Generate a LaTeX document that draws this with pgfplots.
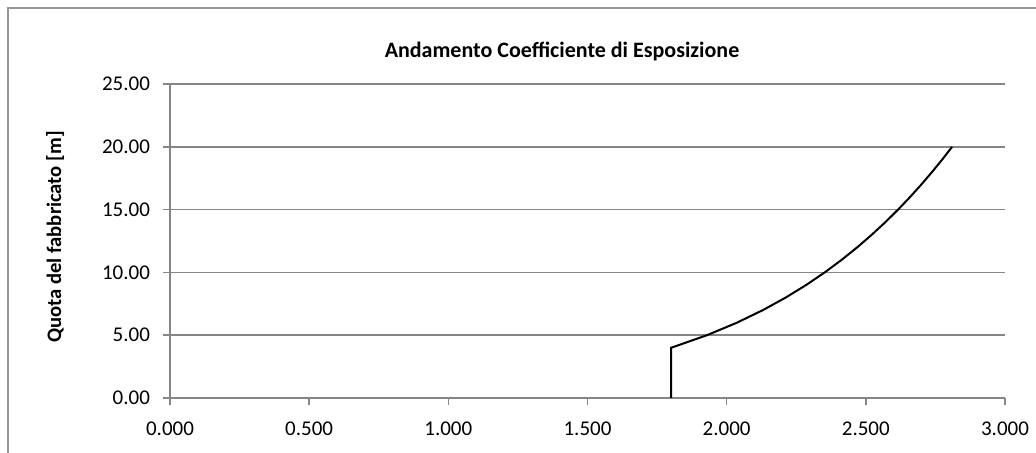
\documentclass[border=0pt]{standalone}
\usepackage{fontspec}
\setmainfont{Carlito}
\usepackage{pgfplots}
\pgfplotsset{compat=1.18}
\definecolor{axgray}{RGB}{134,134,134}
\definecolor{framegray}{RGB}{150,150,150}

% coefficient of exposure vs height
\pgfplotstableread{
ce      z
1.8005  0
1.8005  4
1.9293  5
2.0372  6
2.1303  7
2.2124  8
2.2858  9
2.3523  10
2.4131  11
2.4693  12
2.5214  13
2.5701  14
2.6158  15
2.6588  16
2.6995  17
2.7381  18
2.7749  19
2.8100  20
}\cedata

\begin{document}
\begin{tikzpicture}
% page is 1036x453 px at 0.5pt per px
\useasboundingbox (0,0) rectangle (518pt,226.5pt);
\draw[framegray, line width=0.75pt] (4pt,-20pt) rectangle (600pt,222.5pt);

\node[font=\fontsize{11}{13}\selectfont\bfseries] at (281pt,200.5pt) {Andamento Coefficiente di Esposizione};
\node[font=\fontsize{10.3}{12}\selectfont\bfseries, rotate=90] at (27.5pt,108pt) {Quota del fabbricato [m]};

\begin{axis}[
    at={(85pt,27.5pt)}, anchor=south west,
    scale only axis,
    width=417.5pt, height=157pt,
    xmin=0, xmax=3, ymin=0, ymax=25,
    xtick={0,0.5,1,1.5,2,2.5,3},
    ytick={0,5,10,15,20,25},
    axis x line*=bottom, axis y line*=left,
    axis line style={axgray, line width=0.75pt, -},
    ymajorgrids,
    grid style={axgray, line width=0.75pt},
    tick style={axgray, line width=0.75pt},
    tick align=outside,
    major tick length=3.5pt,
    /pgf/number format/assume math mode=true,
    ticklabel style={font=\fontsize{10.5}{12}\selectfont},
    xticklabel style={/pgf/number format/.cd, fixed, fixed zerofill, precision=3, /tikz/.cd, yshift=-5pt},
    yticklabel style={/pgf/number format/.cd, fixed, fixed zerofill, precision=2, /tikz/.cd, xshift=-3pt},
]
\addplot[black, line width=1pt, no marks] table[x=ce, y=z] {\cedata};
\end{axis}
\end{tikzpicture}
\end{document}
